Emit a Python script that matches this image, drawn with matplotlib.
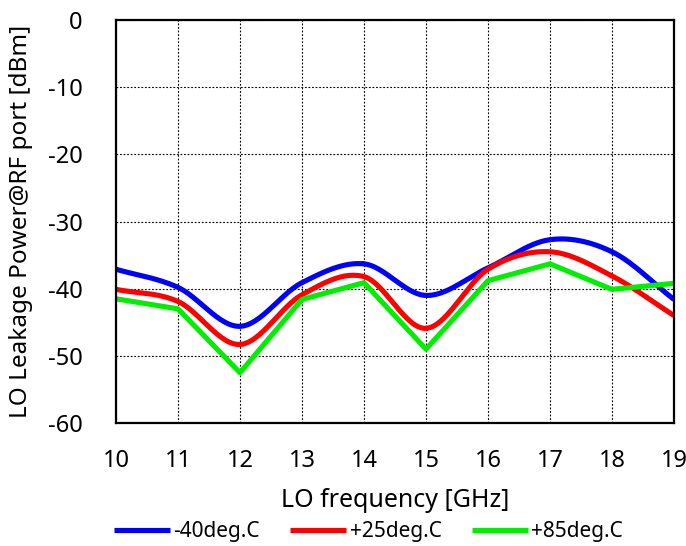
import numpy as np
from matplotlib import pyplot as plt

# LO leakage vs LO frequency, three temperatures
freq_ghz = [10, 11, 12, 13, 14, 15, 16, 17, 18, 19]
leak_m40 = [-37.1, -39.8, -45.6, -39.1, -36.3, -41.0, -36.9, -32.7, -34.5, -41.6]
leak_p25 = [-40.1, -41.9, -48.3, -40.9, -38.2, -45.9, -37.1, -34.5, -38.1, -44.0]
leak_p85 = [-41.5, -43.0, -52.5, -41.6, -39.1, -49.0, -38.8, -36.3, -40.1, -39.2]

x_ticks = list(range(10, 20))
y_ticks = list(range(-60, 1, 10))


def smooth_curve(x, y, steps=30):
    """Catmull-Rom curve through the points, like Excel's smoothed line."""
    x = np.asarray(x, float)
    y = np.asarray(y, float)
    px = np.concatenate([[2 * x[0] - x[1]], x, [2 * x[-1] - x[-2]]])
    py = np.concatenate([[2 * y[0] - y[1]], y, [2 * y[-1] - y[-2]]])
    t = np.linspace(0, 1, steps)
    xs, ys = [], []
    for i in range(1, len(px) - 2):
        for p, out in ((px, xs), (py, ys)):
            p0, p1, p2, p3 = p[i - 1], p[i], p[i + 1], p[i + 2]
            out.append(0.5 * (2 * p1 + (-p0 + p2) * t
                              + (2 * p0 - 5 * p1 + 4 * p2 - p3) * t ** 2
                              + (-p0 + 3 * p1 - 3 * p2 + p3) * t ** 3))
    return np.concatenate(xs), np.concatenate(ys)


plt.rcParams["font.family"] = ["Noto Sans", "DejaVu Sans"]
plt.rcParams["axes.unicode_minus"] = False

fig = plt.figure(figsize=(6.86, 5.46), dpi=100)
ax = fig.add_axes([0.169, 0.2252, 0.8135, 0.7381])

sx, sy = smooth_curve(freq_ghz, leak_m40)
ax.plot(sx, sy, color="#0000ff", lw=3.7, label="-40deg.C", solid_capstyle="butt")
sx, sy = smooth_curve(freq_ghz, leak_p25)
ax.plot(sx, sy, color="#ff0000", lw=3.7, label="+25deg.C", solid_capstyle="butt")
ax.plot(freq_ghz, leak_p85, color="#00ee00", lw=3.7, label="+85deg.C", solid_capstyle="butt")

ax.set_xlim(10, 19)
ax.set_ylim(-60, 0)
ax.set_xticks(x_ticks)
ax.set_yticks(y_ticks)
ax.tick_params(length=0, labelsize=17)
ax.tick_params(axis="x", pad=19)
ax.tick_params(axis="y", pad=24)
ax.grid(True, color="black", ls=(0, (1.6, 1.6)), lw=0.8)
for s in ax.spines.values():
    s.set_linewidth(1.6)

ax.set_xlabel("LO frequency [GHz]", fontsize=18)
ax.set_ylabel("LO Leakage Power@RF port [dBm]", fontsize=17.5)
ax.xaxis.set_label_coords(0.5, -0.16)
ax.yaxis.set_label_coords(-0.148, 0.5)

fig.legend(loc="center", bbox_to_anchor=(0.537, 1 - 532 / 546), ncol=3, frameon=False,
           fontsize=15, handlelength=2.7, handletextpad=0.15, columnspacing=1.45)

fig.savefig("out.png", dpi=100)
